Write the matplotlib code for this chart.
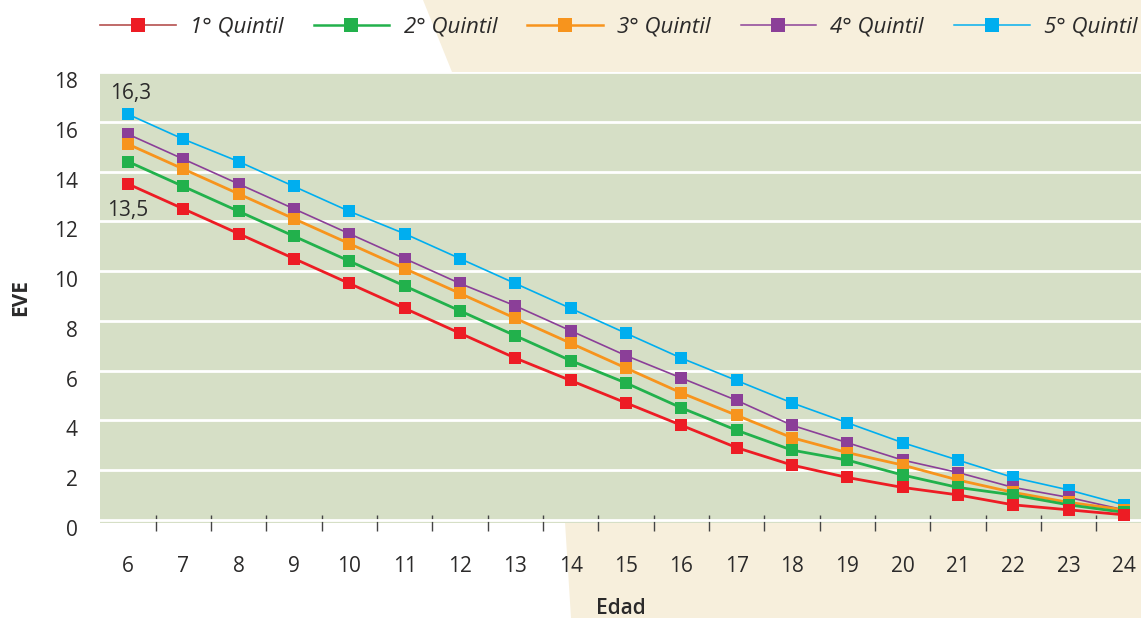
import numpy as np
import matplotlib
matplotlib.use("Agg")
from matplotlib import pyplot as plt
from matplotlib.patches import Polygon
from matplotlib.transforms import ScaledTranslation

plt.rcParams['font.family'] = ['Open Sans', 'DejaVu Sans']

# ages on the x axis
edad = list(range(6, 25))

# EVE per quintile
q1 = [13.5, 12.5, 11.5, 10.5, 9.5, 8.5, 7.5, 6.5, 5.6, 4.7, 3.8, 2.9, 2.2, 1.7, 1.3, 1.0, 0.6, 0.4, 0.2]
q2 = [14.4, 13.4, 12.4, 11.4, 10.4, 9.4, 8.4, 7.4, 6.4, 5.5, 4.5, 3.6, 2.8, 2.4, 1.8, 1.3, 1.0, 0.6, 0.3]
q3 = [15.1, 14.1, 13.1, 12.1, 11.1, 10.1, 9.1, 8.1, 7.1, 6.1, 5.1, 4.2, 3.3, 2.7, 2.2, 1.6, 1.1, 0.7, 0.4]
q4 = [15.5, 14.5, 13.5, 12.5, 11.5, 10.5, 9.5, 8.6, 7.6, 6.6, 5.7, 4.8, 3.8, 3.1, 2.4, 1.9, 1.3, 0.9, 0.4]
q5 = [16.3, 15.3, 14.4, 13.4, 12.4, 11.5, 10.5, 9.5, 8.5, 7.5, 6.5, 5.6, 4.7, 3.9, 3.1, 2.4, 1.7, 1.2, 0.6]

series = [q1, q2, q3, q4, q5]
labels = ["1° Quintil", "2° Quintil", "3° Quintil", "4° Quintil", "5° Quintil"]
colors = ["#ED1C24", "#22B14C", "#F7941D", "#8B3F98", "#00AEEF"]
widths = [2.0, 2.0, 2.0, 1.2, 1.2]

txt = "#2b2a2a"
W, H = 1141, 618

fig = plt.figure(figsize=(W / 100, H / 100), dpi=100)

# beige band behind the plot
pts = [(423, 0), (452, 72), (565, 522), (571, 618), (1141, 618), (1141, 0)]
fig.patches.append(Polygon([(x / W, 1 - y / H) for x, y in pts], closed=True,
                           transform=fig.transFigure, facecolor="#F7EFDC",
                           edgecolor="none", zorder=-1))

ax = fig.add_axes([100 / W, 1 - 523 / H, 1 - 100 / W, (523 - 72) / H])
ax.set_facecolor("#D6DFC6")

handles = []
for i in reversed(range(5)):
    ln, = ax.plot(edad, series[i], color=colors[i], lw=widths[i], marker="s",
                  ms=9, mfc=colors[i], mec=colors[i], mew=0, zorder=10 - i,
                  label=labels[i])
    handles.insert(0, ln)

ax.set_xlim(5.494, 24.31)
ax.set_ylim(-0.13, 17.98)

ax.set_yticks(range(0, 19, 2))
ax.set_xticks(edad)
ax.set_xticks(np.arange(6.5, 24, 1), minor=True)
ax.tick_params(axis="y", length=0, pad=16, labelsize=15, labelcolor=txt)
ax.tick_params(axis="x", which="major", length=0, pad=24, labelsize=15, labelcolor=txt)
ax.tick_params(axis="x", which="minor", direction="inout", length=11, width=1,
               color="#444444")
off = ScaledTranslation(0, -0.08, fig.dpi_scale_trans)
for lab in ax.get_yticklabels():
    lab.set_transform(lab.get_transform() + off)

ax.grid(axis="y", color="white", lw=2)
ax.set_axisbelow(True)
for s in ax.spines.values():
    s.set_visible(False)

ax.set_ylabel("EVE", fontsize=15, fontweight="bold", color=txt)
ax.yaxis.set_label_coords(-0.066, 0.5)
ax.set_xlabel("Edad", fontsize=15, fontweight="semibold", color=txt)
ax.xaxis.set_label_coords(0.5, -0.166)

ax.annotate("16,3", (edad[0], q5[0]), xytext=(2, 15), textcoords="offset points",
            ha="center", va="center", fontsize=15, color=txt)
ax.annotate("13,5", (edad[0], q1[0]), xytext=(0, -19), textcoords="offset points",
            ha="center", va="center", fontsize=15, color=txt)

leg = fig.legend(handles=handles, labels=labels, ncol=5, loc="center left",
                 bbox_to_anchor=(100 / W, 1 - 27 / H), frameon=False,
                 handlelength=3.4, handletextpad=0.65,
                 columnspacing=1.35, borderpad=0, borderaxespad=0,
                 prop={"style": "italic", "size": 16})
for t in leg.get_texts():
    t.set_color(txt)
for ln, w in zip(leg.get_lines(), widths):
    ln.set_linewidth(w * 0.9)
    ln.set_markersize(10.5)
leg.get_lines()[0].set_color("#B5504F")
leg.get_lines()[0].set_linewidth(1.2)

fig.savefig("out.png", dpi=100)
